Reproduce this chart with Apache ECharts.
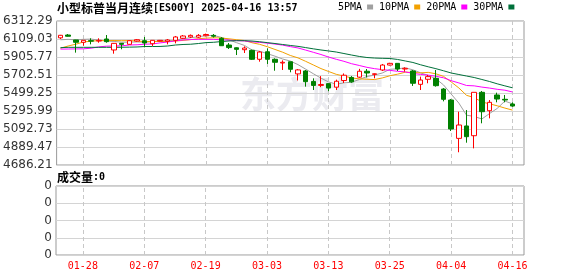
<!DOCTYPE html>
<html><head><meta charset="utf-8">
<script src="https://cdn.jsdelivr.net/npm/echarts@6/dist/echarts.min.js"></script>
<style>html,body{margin:0;padding:0;background:#fff}#c{width:578px;height:276px}</style>
</head><body><div id="c"></div>
<script>
const dates = ['01-23','01-24','01-27','01-28','01-29','01-30','01-31','02-03','02-04','02-05',
 '02-06','02-07','02-10','02-11','02-12','02-13','02-14','02-17','02-18','02-19',
 '02-20','02-21','02-24','02-25','02-26','02-27','02-28','03-03','03-04','03-05',
 '03-06','03-07','03-10','03-11','03-12','03-13','03-14','03-17','03-18','03-19',
 '03-20','03-21','03-24','03-25','03-26','03-27','03-28','03-31','04-01','04-02',
 '04-03','04-04','04-07','04-08','04-09','04-10','04-11','04-14','04-15','04-16'];
const labelDates = ['01-28','02-07','02-19','03-03','03-13','03-25','04-04','04-16'];

const open  = [6122,6154,6098,6072,6090,6086,6109,5985,6060,6049,
 6086,6090,6056,6086,6083,6094,6117,6132,6130,6146,
 6150,6117,6041,6010,5988,5981,5880,5965,5880,5838,
 5852,5715,5748,5630,5585,5605,5565,5640,5675,5678,
 5745,5710,5759,5815,5834,5770,5748,5597,5654,5665,
 5544,5420,4987,5127,5017,5507,5299,5477,5428,5375];
const close = [6151,6140,6072,6094,6085,6094,6079,6060,6049,6090,
 6101,6064,6094,6094,6098,6132,6143,6150,6150,6160,
 6140,6033,6012,5992,6007,5880,5962,5880,5846,5846,
 5767,5760,5627,5585,5595,5555,5632,5700,5625,5745,
 5725,5716,5815,5834,5770,5778,5609,5646,5684,5582,
 5428,5093,5138,5006,5507,5288,5394,5431,5420,5352];
const low   = [6109,6136,5955,6033,6049,6067,6067,5943,5993,6045,
 6079,6015,6030,6083,6049,6060,6109,6120,6120,6138,
 6125,6030,5996,5928,5951,5872,5853,5827,5751,5759,
 5733,5640,5571,5533,5565,5520,5533,5612,5615,5670,
 5675,5665,5748,5810,5748,5740,5579,5533,5609,5571,
 5405,5070,4830,4938,4874,5157,5213,5394,5394,5344];
const high  = [6155,6165,6100,6096,6117,6117,6154,6064,6064,6094,
 6109,6132,6096,6098,6109,6143,6154,6160,6165,6170,
 6165,6130,6064,6015,6026,5988,5973,6004,5891,5868,
 5852,5770,5759,5665,5690,5609,5650,5720,5690,5772,
 5770,5720,5827,5840,5834,5790,5759,5684,5703,5759,
 5555,5431,5288,5307,5507,5522,5420,5503,5477,5394];

const ma5  = [6100,6105,6100,6105,6108,6097,6085,6082,6073,6074,
 6076,6073,6080,6089,6090,6096,6112,6123,6135,6147,
 6149,6127,6099,6067,6037,5985,5971,5944,5915,5883,
 5860,5820,5769,5717,5667,5624,5599,5613,5621,5651,
 5685,5702,5725,5767,5772,5783,5761,5727,5697,5660,
 5590,5487,5385,5249,5234,5206,5267,5325,5408,5377];
const ma10 = [6005,6030,6050,6075,6085,6090,6092,6092,6090,6091,
 6087,6079,6081,6081,6082,6086,6093,6102,6112,6119,
 6123,6120,6111,6101,6092,6067,6049,6022,5991,5960,
 5923,5896,5857,5816,5775,5742,5710,5691,5669,5659,
 5655,5651,5669,5694,5712,5734,5732,5726,5732,5716,
 5687,5624,5556,5473,5447,5398,5377,5355,5329,5306];
const ma20 = [5995,5996,5997,5998,6005,6020,6028,6030,6032,6041,
 6044,6050,6053,6065,6075,6088,6098,6103,6105,6105,
 6105,6100,6096,6091,6087,6077,6071,6062,6052,6040,
 6023,6008,5984,5959,5934,5905,5880,5857,5830,5810,
 5789,5774,5763,5755,5744,5738,5721,5709,5701,5688,
 5671,5638,5613,5584,5580,5566,5555,5541,5531,5511];
const ma30 = [6011,6015,6015,6015,6015,6015,6015,6015,6016,6017,
 6019,6024,6024,6025,6030,6041,6047,6050,6058,6068,
 6072,6080,6087,6090,6090,6086,6078,6068,6058,6047,
 6036,6026,6012,5998,5985,5974,5962,5945,5928,5912,
 5900,5894,5891,5889,5878,5861,5844,5818,5795,5774,
 5750,5725,5708,5691,5674,5652,5629,5603,5580,5558];

const volume = [0,0,0,0,0,0,0,0,0,0, 0,0,0,0,0,0,0,0,0,0, 0,0,0,0,0,0,0,0,0,0,
 0,0,0,0,0,0,0,0,0,0, 0,0,0,0,0,0,0,0,0,0, 0,0,0,0,0,0,0,0,0,0];

const yTicks = [4686.21,4889.47,5092.73,5295.99,5499.25,5702.51,5905.77,6109.03,6312.29];
const volTickLabels = ['0','0','0','0','0'];
const maNames = ['5PMA','10PMA','20PMA','30PMA'];
const maColors = ['#a0a0a0','#f2a100','#ff00ff','#00703a'];

const cats = dates.concat(['']);
const kData = dates.map((d, i) => [open[i], close[i], low[i], high[i]]);
const vLines = labelDates.map(d => ({ xAxis: d }));
const vLineStyle = { color: '#c8c8c8', type: [4, 3], width: 1 };
const MONO = '"DejaVu Sans Mono", monospace';
const CJK = '"Noto Sans CJK SC", sans-serif';

const chart = echarts.init(document.getElementById('c'), null, { renderer: 'canvas' });
chart.setOption({
  animation: false,
  backgroundColor: '#ffffff',
  title: [
    { left: 57, top: 1, padding: 0, text: '{c|小型标普当月连续}{a|[ES00Y] 2025-04-16 13:57}',
      textStyle: { rich: { c: { fontFamily: CJK, fontSize: 12, color: '#000', lineHeight: 14 },
                           a: { fontFamily: MONO, fontSize: 10, color: '#000', lineHeight: 14 } } } },
    { left: 57, top: 170, padding: 0, text: '{c|成交量}{a|:0}',
      textStyle: { rich: { c: { fontFamily: CJK, fontSize: 12, color: '#000', lineHeight: 14 },
                           a: { fontFamily: MONO, fontSize: 10, color: '#000', lineHeight: 14 } } } }
  ],
  legend: {
    data: maNames, left: 338, top: 2, align: 'right', icon: 'rect',
    itemWidth: 6, itemHeight: 5, itemGap: 6, padding: 0,
    textStyle: { fontFamily: MONO, fontSize: 10, color: '#000' },
    selectedMode: false
  },
  graphic: [{
    type: 'text', left: 240, top: 76, z: 0, silent: true,
    style: { text: '东方财富', font: 'bold 36px "Noto Sans CJK SC"', fill: '#ebebf0' }
  }],
  grid: [
    { left: 56, top: 21, width: 468, height: 144, show: true, borderColor: '#999', borderWidth: 1, backgroundColor: 'transparent' },
    { left: 56, top: 186, width: 468, height: 69, show: true, borderColor: '#999', borderWidth: 1, backgroundColor: 'transparent' }
  ],
  xAxis: [
    { type: 'category', gridIndex: 0, data: cats, boundaryGap: true,
      axisLine: { show: false }, axisTick: { show: false }, axisLabel: { show: false }, splitLine: { show: false } },
    { type: 'category', gridIndex: 1, data: cats, boundaryGap: true,
      axisLine: { show: false }, axisTick: { show: false }, splitLine: { show: false },
      axisLabel: { show: true, interval: (idx, val) => labelDates.includes(val), color: '#ff0000',
                   fontFamily: MONO, fontSize: 10, margin: 6 } }
  ],
  yAxis: [
    { type: 'value', gridIndex: 0, min: yTicks[0], max: yTicks[yTicks.length - 1],
      interval: Math.round((yTicks[1] - yTicks[0]) * 100) / 100, scale: true,
      axisLine: { show: false }, axisTick: { show: false },
      axisLabel: { formatter: v => v.toFixed(2), color: '#333', fontFamily: '"DejaVu Sans", sans-serif', fontSize: 12, margin: 4 },
      splitLine: { show: true, lineStyle: { color: '#d4d4d4', width: 1 } } },
    { type: 'value', gridIndex: 1, min: 0, max: volTickLabels.length - 1, interval: 1,
      axisLine: { show: false }, axisTick: { show: false },
      axisLabel: { formatter: (v, i) => volTickLabels[i] || '0', color: '#333', fontFamily: '"DejaVu Sans", sans-serif', fontSize: 12, margin: 4 },
      splitLine: { show: true, lineStyle: { color: '#d4d4d4', width: 1 } } }
  ],
  series: [
    { type: 'candlestick', name: 'K', xAxisIndex: 0, yAxisIndex: 0, data: kData, barWidth: 5, z: 3,
      itemStyle: { color: '#ffffff', color0: '#008000', borderColor: '#ff0000', borderColor0: '#008000', borderWidth: 1 },
      markLine: { z: 1, silent: true, symbol: ['none', 'none'], label: { show: false }, lineStyle: vLineStyle,
                  emphasis: { disabled: true }, data: vLines, animation: false } },
    ...[ma5, ma10, ma20, ma30].map((arr, k) => ({
      type: 'line', name: maNames[k], xAxisIndex: 0, yAxisIndex: 0, data: arr, z: 2,
      symbol: 'none', showSymbol: false, color: maColors[k],
      lineStyle: { color: maColors[k], width: 1 }, itemStyle: { color: maColors[k] }
    })),
    { type: 'bar', name: 'VOL', xAxisIndex: 1, yAxisIndex: 1, data: volume, barWidth: 5,
      itemStyle: { color: '#008000' },
      markLine: { z: 1, silent: true, symbol: ['none', 'none'], label: { show: false }, lineStyle: vLineStyle,
                  emphasis: { disabled: true }, data: vLines, animation: false } }
  ]
});
</script></body></html>
